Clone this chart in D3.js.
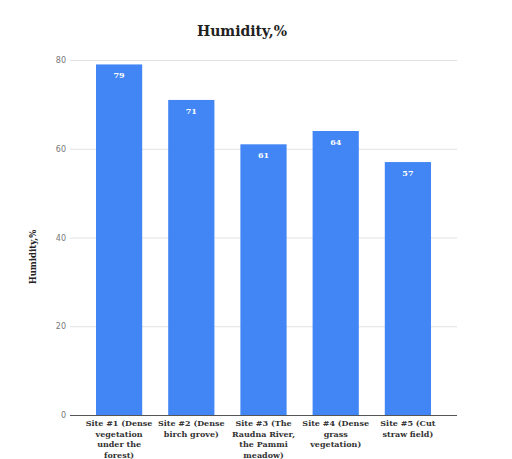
<!DOCTYPE html>
<html>
<head>
<meta charset="utf-8">
<script src="https://cdn.jsdelivr.net/npm/d3@7"></script>
<style>
  html, body { margin: 0; padding: 0; background: #fff; }
  svg { display: block; }
</style>
</head>
<body>
<svg id="chart" width="512" height="459"></svg>
<script>
// Relative humidity measured at five field sites
const categories = [
  "Site #1 (Dense vegetation under the forest)",
  "Site #2 (Dense birch grove)",
  "Site #3 (The Raudna River, the Pammi meadow)",
  "Site #4 (Dense grass vegetation)",
  "Site #5 (Cut straw field)"
];
const categoryLines = [
  ["Site #1 (Dense", "vegetation", "under the", "forest)"],
  ["Site #2 (Dense", "birch grove)"],
  ["Site #3 (The", "Raudna River,", "the Pammi", "meadow)"],
  ["Site #4 (Dense", "grass", "vegetation)"],
  ["Site #5 (Cut", "straw field)"]
];
const humidity = [79, 71, 61, 64, 57];
const yTicks = [0, 20, 40, 60, 80];

const svg = d3.select("#chart");
const plotLeft = 70, plotRight = 457, plotTop = 60, plotBottom = 415;
const serif = "'DejaVu Serif', 'Liberation Serif', serif";

const x = d3.scaleBand()
  .domain(categories)
  .range([plotLeft, plotRight])
  .paddingInner(0.36)
  .paddingOuter(0.36);

const y = d3.scaleLinear().domain([0, 80]).range([plotBottom, plotTop]);

// Title
svg.append("text")
  .attr("x", 242).attr("y", 36)
  .attr("text-anchor", "middle")
  .attr("font-family", serif)
  .attr("font-weight", "bold")
  .attr("font-size", 14)
  .attr("fill", "#222")
  .text("Humidity,%");

// Horizontal gridlines and y tick labels
const yAxis = svg.append("g")
  .attr("transform", `translate(${plotLeft},0)`)
  .call(d3.axisLeft(y).tickValues(yTicks).tickSize(-(plotRight - plotLeft)).tickPadding(4).tickFormat(d3.format("d")));
yAxis.select(".domain").remove();
yAxis.selectAll(".tick line")
  .attr("stroke", d => d === 0 ? "#555" : "#e2e2e2")
  .attr("stroke-width", 1);
yAxis.selectAll(".tick text")
  .attr("font-family", "'DejaVu Sans', sans-serif")
  .attr("font-size", 8)
  .attr("fill", "#777");

// Y axis title
svg.append("text")
  .attr("transform", "translate(36,257) rotate(-90)")
  .attr("text-anchor", "middle")
  .attr("font-family", serif)
  .attr("font-weight", "bold")
  .attr("font-size", 8.5)
  .attr("fill", "#222")
  .text("Humidity,%");

// Bars
svg.append("g").selectAll("rect")
  .data(humidity)
  .join("rect")
  .attr("x", (d, i) => x(categories[i]))
  .attr("y", d => y(d))
  .attr("width", x.bandwidth())
  .attr("height", d => y(0) - y(d))
  .attr("fill", "#4285f4");

// Value labels inside the bars
svg.append("g").selectAll("text")
  .data(humidity)
  .join("text")
  .attr("x", (d, i) => x(categories[i]) + x.bandwidth() / 2)
  .attr("y", d => y(d) + 14)
  .attr("text-anchor", "middle")
  .attr("font-family", serif)
  .attr("font-weight", "bold")
  .attr("font-size", 8)
  .attr("fill", "#fff")
  .text(d => d);

// Category labels, wrapped
const xl = svg.append("g").selectAll("text")
  .data(categories)
  .join("text")
  .attr("x", d => x(d) + x.bandwidth() / 2)
  .attr("y", 426)
  .attr("text-anchor", "middle")
  .attr("font-family", serif)
  .attr("font-weight", "bold")
  .attr("font-size", 8)
  .attr("fill", "#333");
xl.each(function(d, i) {
  const t = d3.select(this);
  categoryLines[i].forEach((line, j) => {
    t.append("tspan")
      .attr("x", x(d) + x.bandwidth() / 2)
      .attr("dy", j === 0 ? 0 : 10.5)
      .text(line);
  });
});
</script>
</body>
</html>
